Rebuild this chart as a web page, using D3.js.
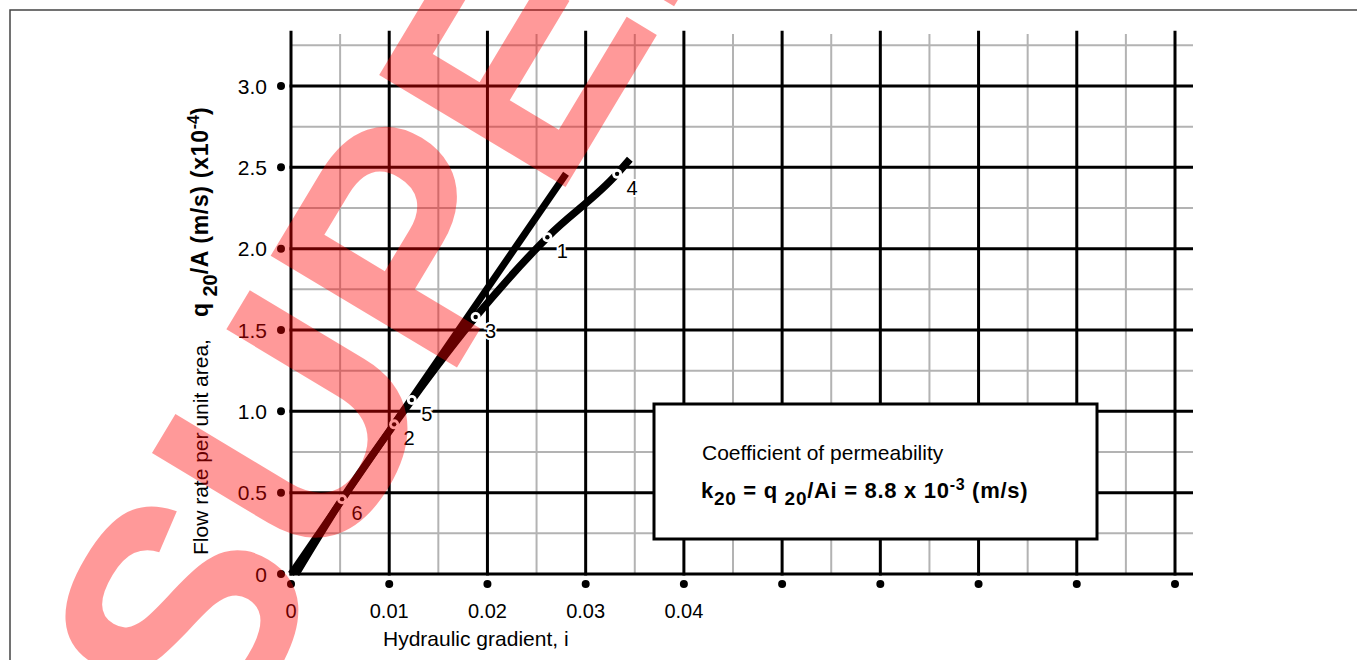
<!DOCTYPE html>
<html lang="en">
<head>
<meta charset="UTF-8">
<script src="https://d3js.org/d3.v7.min.js"></script>
<style>
    body { margin: 0; background: #fff; }
    text { font-family: "Liberation Sans", Arial, Helvetica, sans-serif; }
</style>
</head>
<body>
<div id="chart"></div>
<script>
// ---- data ----
var xTickValues = [0, 0.01, 0.02, 0.03, 0.04, 0.05, 0.06, 0.07, 0.08, 0.09];
var xTickLabels = ["0", "0.01", "0.02", "0.03", "0.04"];
var yTickValues = [0, 0.5, 1.0, 1.5, 2.0, 2.5, 3.0];
var yTickLabels = ["0", "0.5", "1.0", "1.5", "2.0", "2.5", "3.0"];

// fitted straight line k = 8.8e-3 m/s
var fitI = [0, 0.028];
var fitQ = [0, 2.46];

// measured curve (q20/A in 1e-4 m/s)
var curveI = [0.0005, 0.0052, 0.0105, 0.0123, 0.0188, 0.0261, 0.0332, 0.0345];
var curveQ = [0, 0.46, 0.92, 1.07, 1.58, 2.07, 2.46, 2.55];

// numbered test points
var pointLabels = ["6", "2", "5", "3", "1", "4"];
var pointI = [0.0052, 0.0105, 0.0123, 0.0188, 0.0261, 0.0332];
var pointQ = [0.46, 0.92, 1.07, 1.58, 2.07, 2.46];

var width = 1357, height = 660;

var svg = d3.select("#chart").append("svg")
    .attr("width", width)
    .attr("height", height);

var x = d3.scaleLinear().domain([0, 0.09]).range([291, 1175]);
var y = d3.scaleLinear().domain([0, 3]).range([574, 86]);

// outer frame
svg.append("rect")
    .attr("x", 10).attr("y", 10)
    .attr("width", width + 20).attr("height", height + 20)
    .attr("fill", "none")
    .attr("stroke", "#444")
    .attr("stroke-width", 1.5);

var xRight = x.invert(1193);
var minorX = d3.range(1, 18, 2).map(function (k) { return k * 0.005; });
var minorY = d3.range(1, 14, 2).map(function (k) { return k * 0.25; });

var grid = svg.append("g");

grid.selectAll(".vminor").data(minorX).enter().append("line")
    .attr("x1", function (d) { return x(d); }).attr("x2", function (d) { return x(d); })
    .attr("y1", y(0)).attr("y2", y(3.32))
    .attr("stroke", "#b3b3b3").attr("stroke-width", 2);

grid.selectAll(".hminor").data(minorY).enter().append("line")
    .attr("x1", x(0)).attr("x2", x(xRight))
    .attr("y1", function (d) { return y(d); }).attr("y2", function (d) { return y(d); })
    .attr("stroke", "#b3b3b3").attr("stroke-width", 2);

grid.selectAll(".vmajor").data(xTickValues).enter().append("line")
    .attr("x1", function (d) { return x(d); }).attr("x2", function (d) { return x(d); })
    .attr("y1", y(0) + 1.5).attr("y2", y(3.34))
    .attr("stroke", "#000").attr("stroke-width", 3);

grid.selectAll(".hmajor").data(yTickValues).enter().append("line")
    .attr("x1", x(0) - 1.5).attr("x2", x(xRight))
    .attr("y1", function (d) { return y(d); }).attr("y2", function (d) { return y(d); })
    .attr("stroke", "#000").attr("stroke-width", 3);

// tick dots
svg.selectAll(".xdot").data(xTickValues).enter().append("circle")
    .attr("cx", function (d) { return x(d); }).attr("cy", y(0) + 10)
    .attr("r", 4).attr("fill", "#000");

svg.selectAll(".ydot").data(yTickValues).enter().append("circle")
    .attr("cx", x(0) - 10).attr("cy", function (d) { return y(d); })
    .attr("r", 4).attr("fill", "#000");

// tick labels
svg.selectAll(".xlab").data(xTickLabels).enter().append("text")
    .attr("x", function (d, i) { return x(xTickValues[i]); })
    .attr("y", 618)
    .attr("text-anchor", "middle")
    .style("font-size", "20px")
    .text(function (d) { return d; });

svg.selectAll(".ylab").data(yTickLabels).enter().append("text")
    .attr("x", 267)
    .attr("y", function (d, i) { return y(yTickValues[i]) + 7.5; })
    .attr("text-anchor", "end")
    .style("font-size", "21px")
    .text(function (d) { return d; });

// axis titles
svg.append("text")
    .attr("x", 383).attr("y", 646)
    .style("font-size", "21px")
    .text("Hydraulic gradient, i");

var yTitle = svg.append("text")
    .attr("transform", "translate(208,555) rotate(-90)")
    .style("font-size", "21px");
yTitle.append("tspan").text("Flow rate per unit area,");
var yb = { "font-weight": "bold", "letter-spacing": "0.7px" };
yTitle.append("tspan").attr("dx", 22).style("font-weight", "bold").style("font-size", "23px").text("q ");
yTitle.append("tspan").attr("dy", 9).style("font-weight", "bold").style("font-size", "20px").text("20");
yTitle.append("tspan").attr("dy", -9).style("font-weight", "bold").style("font-size", "23px")
    .style("letter-spacing", "0.7px").text("/A (m/s) (x10");
yTitle.append("tspan").attr("dy", -9).style("font-weight", "bold").style("font-size", "16px").text("-4");
yTitle.append("tspan").attr("dy", 9).style("font-weight", "bold").style("font-size", "23px").text(")");

// lines
var line = d3.line()
    .x(function (d) { return x(d[0]); })
    .y(function (d) { return y(d[1]); });

svg.append("path")
    .datum(d3.zip(fitI, fitQ))
    .attr("d", line)
    .attr("fill", "none")
    .attr("stroke", "#000")
    .attr("stroke-width", 7);

svg.append("path")
    .datum(d3.zip(curveI, curveQ))
    .attr("d", line.curve(d3.curveMonotoneX))
    .attr("fill", "none")
    .attr("stroke", "#000")
    .attr("stroke-width", 7.5);

// point markers
var pts = d3.zip(pointI, pointQ, pointLabels);
svg.selectAll(".pm").data(pts).enter().append("circle")
    .attr("cx", function (d) { return x(d[0]); })
    .attr("cy", function (d) { return y(d[1]); })
    .attr("r", 5).attr("fill", "#fff");
svg.selectAll(".pc").data(pts).enter().append("circle")
    .attr("cx", function (d) { return x(d[0]); })
    .attr("cy", function (d) { return y(d[1]); })
    .attr("r", 2.2).attr("fill", "#000");

svg.selectAll(".pl").data(pts).enter().append("text")
    .attr("x", function (d) { return x(d[0]) + 15; })
    .attr("y", function (d) { return y(d[1]) + 21; })
    .attr("text-anchor", "middle")
    .style("font-size", "20px")
    .style("paint-order", "stroke")
    .attr("stroke", "#fff").attr("stroke-width", 4)
    .attr("fill", "#000")
    .text(function (d) { return d[2]; });

// result box
svg.append("rect")
    .attr("x", 654).attr("y", 404)
    .attr("width", 443).attr("height", 135)
    .attr("fill", "#fff")
    .attr("stroke", "#000")
    .attr("stroke-width", 3);

svg.append("text")
    .attr("x", 702).attr("y", 460)
    .style("font-size", "21px")
    .text("Coefficient of permeability");

var res = svg.append("text")
    .attr("x", 701).attr("y", 498)
    .style("font-size", "22px")
    .style("font-weight", "bold")
    .style("letter-spacing", "0.7px");
res.append("tspan").text("k");
res.append("tspan").attr("dy", 7).style("font-size", "19px").text("20");
res.append("tspan").attr("dy", -7).text(" = q ");
res.append("tspan").attr("dy", 7).style("font-size", "19px").text("20");
res.append("tspan").attr("dy", -7).text("/Ai = 8.8 x 10");
res.append("tspan").attr("dy", -8).style("font-size", "16px").text("-3");
res.append("tspan").attr("dy", 8).text(" (m/s)");

// watermark
svg.append("text")
    .attr("transform", "translate(220,762) rotate(-59)")
    .style("font-size", "316px")
    .style("font-weight", "bold")
    .attr("fill", "#ff0000")
    .attr("fill-opacity", 0.4)
    .text("SUPER");
</script>
</body>
</html>
